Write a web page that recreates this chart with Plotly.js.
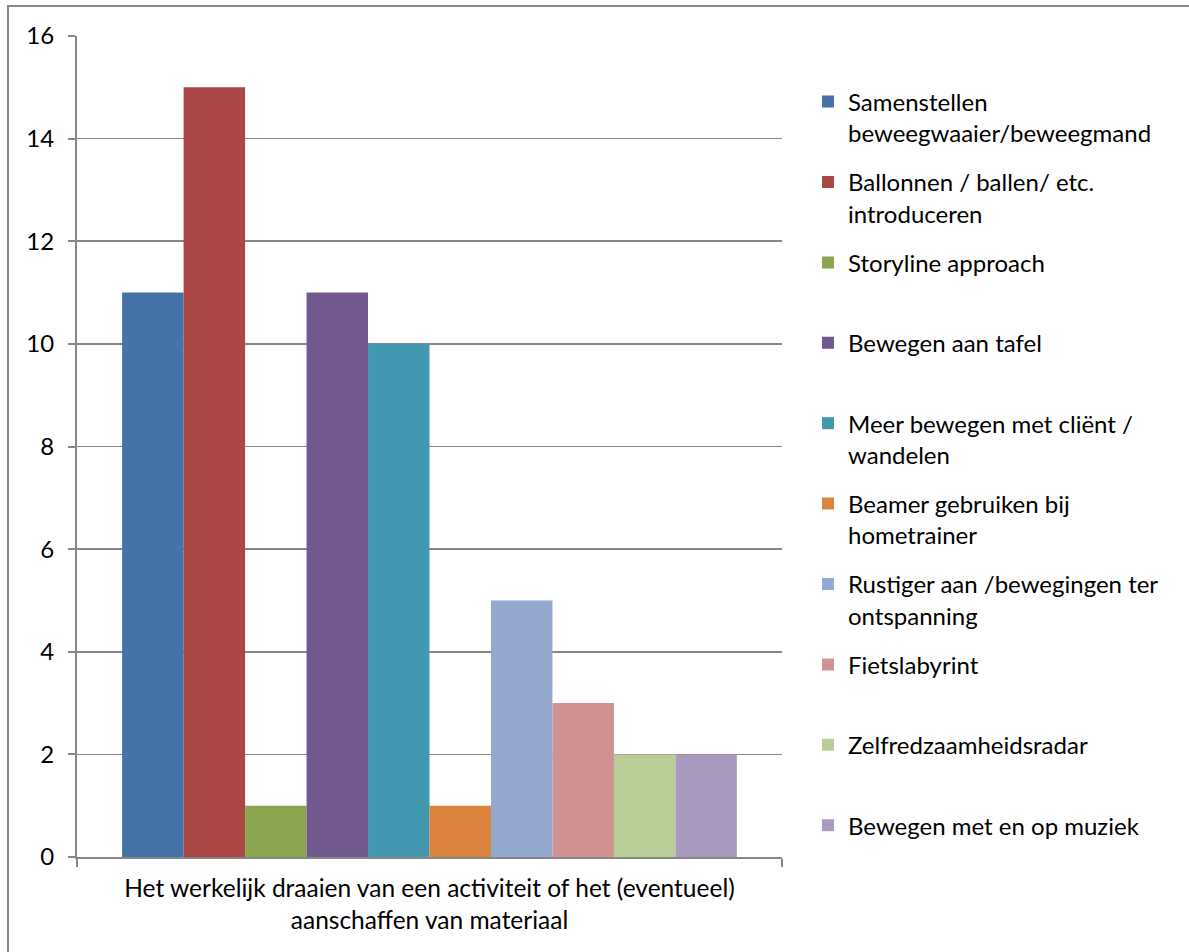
<!DOCTYPE html>
<html>
<head>
<meta charset="utf-8">
<script src="https://cdn.plot.ly/plotly-3.0.1.min.js"></script>
<style>
html,body{margin:0;padding:0;background:#fff;}
#chart{width:1189px;height:952px;}
</style>
</head>
<body>
<div id="chart"></div>
<script>
const categories = ["Het werkelijk draaien van een activiteit of het (eventueel)<br>aanschaffen van materiaal"];
const seriesNames = [
  "Samenstellen<br>beweegwaaier/beweegmand",
  "Ballonnen / ballen/ etc.<br>introduceren",
  "Storyline approach",
  "Bewegen aan tafel",
  "Meer bewegen met cliënt /<br>wandelen",
  "Beamer gebruiken bij<br>hometrainer",
  "Rustiger aan /bewegingen ter<br>ontspanning",
  "Fietslabyrint",
  "Zelfredzaamheidsradar",
  "Bewegen met en op muziek"
];
const seriesValues = [11, 15, 1, 11, 10, 1, 5, 3, 2, 2];
const seriesColors = ["#4572A7","#AA4643","#89A54E","#71588F","#4198AF","#DB843D","#93A9CF","#D19392","#B9CD96","#A99BBD"];
const yTickValues = [0, 2, 4, 6, 8, 10, 12, 14, 16];

const W = 1189, H = 952;
const M = {l: 77, r: 407, t: 36, b: 95};
const FONT = "Lato, 'Open Sans', sans-serif";
const FS = 24;

const traces = seriesNames.map((n, i) => ({
  type: 'bar',
  x: categories,
  y: [seriesValues[i]],
  name: n,
  marker: {color: seriesColors[i], line: {width: 0}},
  legend: i === 0 ? 'legend' : 'legend' + (i + 1),
  hoverinfo: 'skip'
}));

const layout = {
  width: W, height: H,
  margin: M,
  paper_bgcolor: '#fff', plot_bgcolor: '#fff',
  font: {family: FONT, size: FS, color: '#000'},
  barmode: 'group',
  bargap: 0.128,
  bargroupgap: 0,
  xaxis: {
    type: 'category',
    showline: true, linecolor: '#868686', linewidth: 2,
    ticks: 'outside', tickson: 'boundaries', ticklen: 8, tickcolor: '#868686', tickwidth: 2,
    showgrid: false, zeroline: false,
    ticklabelstandoff: 9,
    tickfont: {family: FONT, size: 24.5, color: '#000'},
    fixedrange: true
  },
  yaxis: {
    range: [0, 16],
    tickvals: yTickValues,
    ticktext: yTickValues.map(String),
    showline: true, linecolor: '#868686', linewidth: 2,
    ticks: 'outside', ticklen: 7, tickcolor: '#868686', tickwidth: 2,
    showgrid: true, gridcolor: '#868686', gridwidth: 1.6,
    zeroline: false,
    ticklabelstandoff: 9,
    tickfont: {family: FONT, size: FS, color: '#000'},
    fixedrange: true
  },
  showlegend: true,
  shapes: [{
    type: 'rect', xref: 'paper', yref: 'paper',
    x0: (8 - M.l) / (W - M.l - M.r), x1: (1200 - M.l) / (W - M.l - M.r),
    y0: (H - M.b - 960) / (H - M.t - M.b), y1: (H - M.b - 6) / (H - M.t - M.b),
    line: {color: '#868686', width: 2}, fillcolor: 'rgba(0,0,0,0)', layer: 'below'
  }]
};

// legend item centres (pixels), evenly spread like the original
const legendTop0 = 102.5, legendStep = 80.4, legendX = 808, legendOffset = 23;
seriesNames.forEach((n, i) => {
  const key = i === 0 ? 'legend' : 'legend' + (i + 1);
  layout[key] = {
    xref: 'container', yref: 'container',
    x: legendX / W, y: 1 - (legendTop0 + i * legendStep - legendOffset) / H,
    xanchor: 'left', yanchor: 'top',
    valign: 'top',
    bgcolor: 'rgba(0,0,0,0)', borderwidth: 0,
    font: {family: FONT, size: FS, color: '#000'}
  };
});

Plotly.newPlot('chart', traces, layout, {displayModeBar: false, staticPlot: true});
</script>
</body>
</html>
